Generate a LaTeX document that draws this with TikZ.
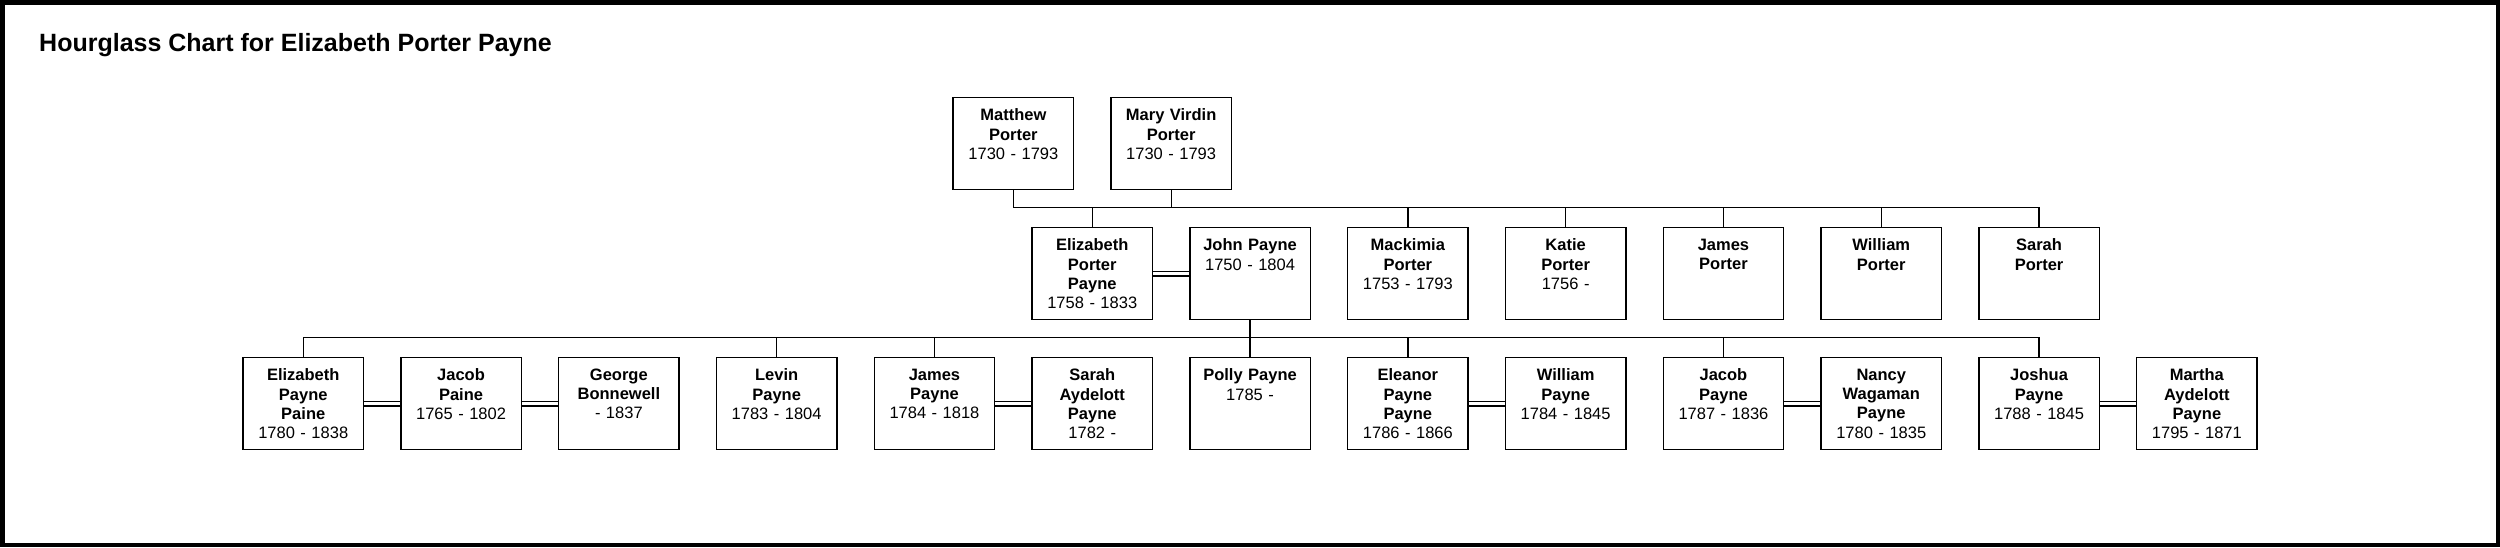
\documentclass[tikz,border=0pt]{standalone}
\usepackage{fontspec}
\setmainfont{Liberation Sans}
\usepackage{tikz}
\usetikzlibrary{positioning, calc}

\begin{document}
\begin{tikzpicture}[x=1pt, y=-1pt,
  personne/.style={draw, line width=1.4pt, minimum width=120.5pt, minimum height=92pt, inner sep=0pt, anchor=north},
  texte/.style={anchor=north, yshift=-11.6pt, text width=118pt, align=center, inner sep=0pt, font=\fontsize{16.5}{19.3}\selectfont\bfseries},
  lien/.style={line width=1.3pt},
  mariage/.style={double, double distance=3.2pt, line width=1.2pt}]
  \useasboundingbox (0,0) rectangle (2500,547);

  % Cadre et titre
  \draw[line width=4.5pt] (2.25,2.25) rectangle (2497.75,544.75);
  \node[anchor=base west, inner sep=0pt, font=\fontsize{25}{30}\selectfont\bfseries] (titre) at (39,51.7) {Hourglass Chart for Elizabeth Porter Payne};

  % Parents
  \node[personne, label={[texte]north:{Matthew\\Porter\\\mdseries 1730 - 1793}}] (matthew) at (1013.35,97) {};
  \node[personne, label={[texte]north:{Mary Virdin\\Porter\\\mdseries 1730 - 1793}}] (mary) at (1171.15,97) {};

  % Fratrie
  \node[personne, label={[texte]north:{Elizabeth\\Porter\\Payne\\\mdseries 1758 - 1833}}] (elizabeth) at (1092.25,227) {};
  \node[personne, label={[texte]north:{John Payne\\\mdseries 1750 - 1804}}] (john) at (1250.05,227) {};
  \node[personne, label={[texte]north:{Mackimia\\Porter\\\mdseries 1753 - 1793}}] (mackimia) at (1407.85,227) {};
  \node[personne, label={[texte]north:{Katie\\Porter\\\mdseries 1756 -}}] (katie) at (1565.65,227) {};
  \node[personne, label={[texte]north:{James\\Porter}}] (jamesPorter) at (1723.45,227) {};
  \node[personne, label={[texte]north:{William\\Porter}}] (williamPorter) at (1881.25,227) {};
  \node[personne, label={[texte]north:{Sarah\\Porter}}] (sarahPorter) at (2039.05,227) {};

  % Enfants et conjoints
  \node[personne, label={[texte]north:{Elizabeth\\Payne\\Paine\\\mdseries 1780 - 1838}}] (elizabethPaine) at (303.25,357) {};
  \node[personne, label={[texte]north:{Jacob\\Paine\\\mdseries 1765 - 1802}}] (jacobPaine) at (461.05,357) {};
  \node[personne, label={[texte]north:{George\\Bonnewell\\\mdseries - 1837}}] (george) at (618.85,357) {};
  \node[personne, label={[texte]north:{Levin\\Payne\\\mdseries 1783 - 1804}}] (levin) at (776.65,357) {};
  \node[personne, label={[texte]north:{James\\Payne\\\mdseries 1784 - 1818}}] (jamesPayne) at (934.45,357) {};
  \node[personne, label={[texte]north:{Sarah\\Aydelott\\Payne\\\mdseries 1782 -}}] (sarahAydelott) at (1092.25,357) {};
  \node[personne, label={[texte]north:{Polly Payne\\\mdseries 1785 -}}] (polly) at (1250.05,357) {};
  \node[personne, label={[texte]north:{Eleanor\\Payne\\Payne\\\mdseries 1786 - 1866}}] (eleanor) at (1407.85,357) {};
  \node[personne, label={[texte]north:{William\\Payne\\\mdseries 1784 - 1845}}] (williamPayne) at (1565.65,357) {};
  \node[personne, label={[texte]north:{Jacob\\Payne\\\mdseries 1787 - 1836}}] (jacobPayne) at (1723.45,357) {};
  \node[personne, label={[texte]north:{Nancy\\Wagaman\\Payne\\\mdseries 1780 - 1835}}] (nancy) at (1881.25,357) {};
  \node[personne, label={[texte]north:{Joshua\\Payne\\\mdseries 1788 - 1845}}] (joshua) at (2039.05,357) {};
  \node[personne, label={[texte]north:{Martha\\Aydelott\\Payne\\\mdseries 1795 - 1871}}] (martha) at (2196.85,357) {};

  % Liens vers la fratrie
  \coordinate (fratrie) at (0,207.7);
  \draw[lien] (matthew.south) |- (fratrie -| sarahPorter.north) -- (sarahPorter.north);
  \draw[lien] (mary.south) -- (mary.south |- fratrie);
  \draw[lien] (elizabeth.north) -- (elizabeth.north |- fratrie);
  \draw[lien] (mackimia.north) -- (mackimia.north |- fratrie);
  \draw[lien] (katie.north) -- (katie.north |- fratrie);
  \draw[lien] (jamesPorter.north) -- (jamesPorter.north |- fratrie);
  \draw[lien] (williamPorter.north) -- (williamPorter.north |- fratrie);

  % Liens vers les enfants
  \coordinate (enfants) at (0,337.7);
  \draw[lien] (john.south) -- (polly.north);
  \draw[lien] (elizabethPaine.north) |- (enfants -| joshua.north) -- (joshua.north);
  \draw[lien] (levin.north) -- (levin.north |- enfants);
  \draw[lien] (jamesPayne.north) -- (jamesPayne.north |- enfants);
  \draw[lien] (eleanor.north) -- (eleanor.north |- enfants);
  \draw[lien] (jacobPayne.north) -- (jacobPayne.north |- enfants);

  % Mariages
  \draw[mariage] (elizabeth.east) -- (john.west);
  \draw[mariage] (elizabethPaine.east) -- (jacobPaine.west);
  \draw[mariage] (jacobPaine.east) -- (george.west);
  \draw[mariage] (jamesPayne.east) -- (sarahAydelott.west);
  \draw[mariage] (eleanor.east) -- (williamPayne.west);
  \draw[mariage] (jacobPayne.east) -- (nancy.west);
  \draw[mariage] (joshua.east) -- (martha.west);
\end{tikzpicture}
\end{document}
